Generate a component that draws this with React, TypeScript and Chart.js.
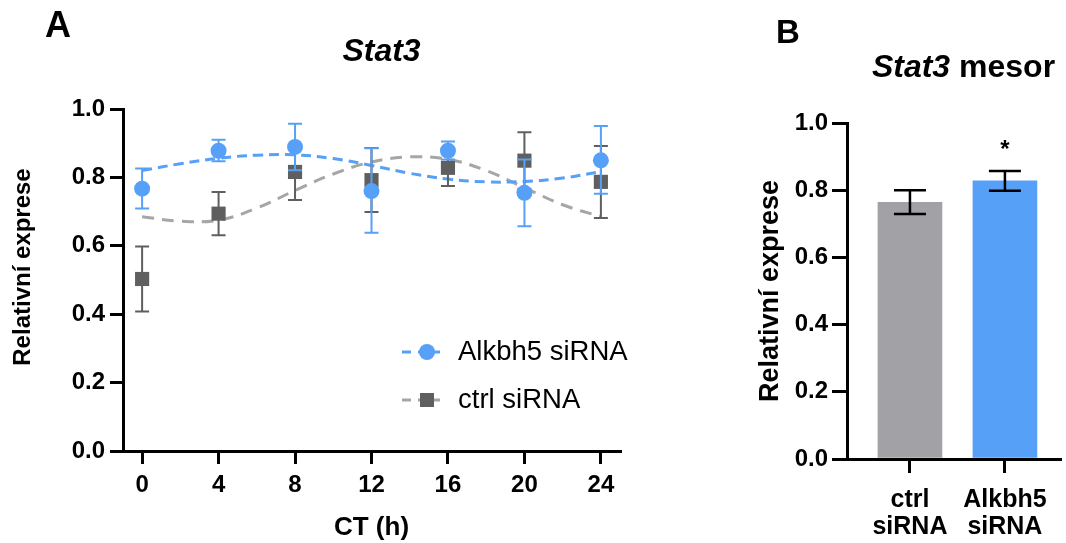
import React, { useEffect, useRef } from "react";
import { Chart, registerables } from "chart.js";

Chart.register(...registerables);

const FONT = "'Liberation Sans', Arial, Helvetica, sans-serif";
const BLUE = "#56a0f8";
const DARK = "#5f5f5f";
const GREY_LINE = "#a6a6a6";
const GREY_BAR = "#a2a1a6";

// ---- Panel A: Stat3 time course ----
const ctHours = [0, 4, 8, 12, 16, 20, 24];
const alkbh5Mean = [0.767, 0.878, 0.889, 0.76, 0.878, 0.755, 0.85];
const alkbh5Upper = [0.826, 0.91, 0.957, 0.885, 0.905, 0.852, 0.95];
const alkbh5Lower = [0.709, 0.847, 0.821, 0.638, 0.852, 0.657, 0.752];
const ctrlMean = [0.503, 0.694, 0.816, 0.792, 0.828, 0.849, 0.787];
const ctrlUpper = [0.598, 0.757, 0.898, 0.886, 0.88, 0.932, 0.892];
const ctrlLower = [0.408, 0.631, 0.734, 0.699, 0.775, 0.766, 0.681];

const fitHours = [0, 2, 4, 6, 8, 10, 12, 14, 16, 18, 20, 22, 24];
const alkbh5Fit = [0.82, 0.84, 0.856, 0.865, 0.866, 0.855, 0.835, 0.812, 0.795, 0.787, 0.788, 0.798, 0.817];
const ctrlFit = [0.685, 0.672, 0.675, 0.71, 0.762, 0.81, 0.845, 0.86, 0.853, 0.82, 0.77, 0.72, 0.685];

const xTicks = [0, 4, 8, 12, 16, 20, 24];

// ---- Panel B: mesor ----
const mesorGroups = [["ctrl", "siRNA"], ["Alkbh5", "siRNA"]];
const mesorMean = [0.764, 0.828];
const mesorUpper = [0.8, 0.857];
const mesorLower = [0.729, 0.798];
const mesorSig = ["", "*"];

function drawErr(chart: any, args: any, after: boolean) {
  const ds: any = chart.data.datasets[args.index];
  if (!ds.errUpper || !!ds.errAfter !== after) return;
  const meta = args.meta;
  const ys = chart.scales[meta.yAxisID];
  const ctx = chart.ctx;
  ctx.save();
  ctx.strokeStyle = ds.errColor;
  ctx.lineWidth = ds.errWidth;
  meta.data.forEach((el: any, i: number) => {
    const x = el.x;
    const yt = ys.getPixelForValue(ds.errUpper[i]);
    const yb = ys.getPixelForValue(ds.errLower[i]);
    const c = ds.errCap;
    ctx.beginPath();
    ctx.moveTo(x, yt);
    ctx.lineTo(x, yb);
    ctx.moveTo(x - c, yt);
    ctx.lineTo(x + c, yt);
    ctx.moveTo(x - c, yb);
    ctx.lineTo(x + c, yb);
    ctx.stroke();
    if (ds.sig && ds.sig[i]) {
      ctx.fillStyle = "#000";
      ctx.font = `bold 24px ${FONT}`;
      ctx.textAlign = "center";
      ctx.textBaseline = "alphabetic";
      ctx.fillText(ds.sig[i], x, yt - 14);
    }
  });
  ctx.restore();
}

const errorBars = {
  id: "errorBars",
  beforeDatasetDraw(chart: any, args: any) {
    drawErr(chart, args, false);
  },
  afterDatasetDraw(chart: any, args: any) {
    drawErr(chart, args, true);
  },
};

const panelText = {
  id: "panelText",
  afterDraw(chart: any, _a: any, opts: any) {
    if (!opts || !opts.letter) return;
    const ctx = chart.ctx;
    const ca = chart.chartArea;
    ctx.save();
    ctx.fillStyle = "#000";
    ctx.textBaseline = "middle";
    ctx.textAlign = "center";
    ctx.font = `bold ${opts.letterSize}px ${FONT}`;
    ctx.fillText(opts.letter, opts.letterX, opts.letterY);
    const parts = opts.title;
    const fonts = parts.map((p: any) => `${p.italic ? "italic " : ""}bold ${opts.titleSize}px ${FONT}`);
    let total = 0;
    const widths = parts.map((p: any, i: number) => {
      ctx.font = fonts[i];
      const w = ctx.measureText(p.text).width;
      total += w;
      return w;
    });
    let x = (ca.left + ca.right) / 2 + opts.titleDx - total / 2;
    ctx.textAlign = "left";
    parts.forEach((p: any, i: number) => {
      ctx.font = fonts[i];
      ctx.fillText(p.text, x, opts.titleY);
      x += widths[i];
    });
    if (opts.yTitle) {
      ctx.save();
      ctx.translate(opts.yTitle.x, (ca.top + ca.bottom) / 2 + opts.yTitle.dy);
      ctx.rotate(-Math.PI / 2);
      ctx.textAlign = "center";
      ctx.textBaseline = "middle";
      ctx.font = `bold ${opts.yTitle.size}px ${FONT}`;
      ctx.fillText(opts.yTitle.text, 0, 0);
      ctx.restore();
    }
    ctx.restore();
  },
};

const insetLegend = {
  id: "insetLegend",
  afterDraw(chart: any, _a: any, opts: any) {
    if (!opts || !opts.display) return;
    const ctx = chart.ctx;
    const items = chart.data.datasets.filter((d: any) => d.legendLine);
    items.forEach((d: any, i: number) => {
      const y = opts.y + i * opts.rowGap;
      ctx.save();
      ctx.strokeStyle = d.legendLine;
      ctx.lineWidth = 3;
      ctx.setLineDash([9, 7]);
      ctx.beginPath();
      ctx.moveTo(opts.x, y);
      ctx.lineTo(opts.x + opts.lineLen, y);
      ctx.stroke();
      ctx.setLineDash([]);
      ctx.fillStyle = d.backgroundColor;
      const mx = opts.x + opts.markerDx;
      if (d.pointStyle === "rect") {
        ctx.fillRect(mx - 7, y - 7, 14, 14);
      } else {
        ctx.beginPath();
        ctx.arc(mx, y, 8, 0, Math.PI * 2);
        ctx.fill();
      }
      ctx.fillStyle = "#000";
      ctx.font = `${opts.fontSize}px ${FONT}`;
      ctx.textBaseline = "middle";
      ctx.textAlign = "left";
      ctx.fillText(d.label, opts.textX, y);
      ctx.restore();
    });
  },
};

Chart.register(errorBars, panelText, insetLegend);

export default function App() {
  const refA = useRef<HTMLCanvasElement>(null);
  const refB = useRef<HTMLCanvasElement>(null);

  useEffect(() => {
    Chart.defaults.font.family = FONT;
    Chart.defaults.color = "#000";

    const axisGrid = {
      display: true,
      drawOnChartArea: false,
      drawTicks: true,
      lineWidth: 3,
      color: "#000",
    };

    const chartA = new Chart(refA.current as HTMLCanvasElement, {
      type: "line",
      data: {
        datasets: [
          {
            label: "Alkbh5 siRNA",
            data: ctHours.map((x, i) => ({ x, y: alkbh5Mean[i] })),
            showLine: false,
            pointStyle: "circle",
            pointRadius: 8,
            pointBorderWidth: 0,
            backgroundColor: BLUE,
            borderColor: BLUE,
            errUpper: alkbh5Upper,
            errLower: alkbh5Lower,
            errColor: BLUE,
            errWidth: 2,
            errCap: 7,
            legendLine: BLUE,
            clip: false,
          } as any,
          {
            label: "ctrl siRNA",
            data: ctHours.map((x, i) => ({ x, y: ctrlMean[i] })),
            showLine: false,
            pointStyle: "rect",
            pointRadius: 10,
            pointBorderWidth: 0,
            backgroundColor: DARK,
            borderColor: DARK,
            errUpper: ctrlUpper,
            errLower: ctrlLower,
            errColor: DARK,
            errWidth: 2,
            errCap: 7,
            legendLine: GREY_LINE,
            clip: false,
          } as any,
          {
            label: "Alkbh5 fit",
            data: fitHours.map((x, i) => ({ x, y: alkbh5Fit[i] })),
            borderColor: BLUE,
            borderWidth: 3,
            borderDash: [10, 6],
            pointRadius: 0,
            tension: 0.4,
            fill: false,
          },
          {
            label: "ctrl fit",
            data: fitHours.map((x, i) => ({ x, y: ctrlFit[i] })),
            borderColor: GREY_LINE,
            borderWidth: 3,
            borderDash: [12, 8],
            pointRadius: 0,
            tension: 0.4,
            fill: false,
          },
        ],
      },
      options: {
        responsive: false,
        animation: false,
        devicePixelRatio: 1,
        layout: { padding: { top: 109, right: 30, left: 0, bottom: 0 } },
        plugins: {
          legend: { display: false },
          tooltip: { enabled: false },
          panelText: {
            letter: "A",
            letterX: 58,
            letterY: 27,
            letterSize: 36,
            title: [{ text: "Stat3", italic: true }],
            titleSize: 32,
            titleY: 52,
            titleDx: 10,
            yTitle: { text: "Relativní exprese", x: 23, dy: -13, size: 24 },
          },
          insetLegend: {
            display: true,
            x: 402,
            y: 352,
            rowGap: 48,
            lineLen: 38,
            markerDx: 25,
            textX: 458,
            fontSize: 27.5,
          },
        } as any,
        scales: {
          x: {
            type: "linear",
            min: -1,
            max: 25,
            afterBuildTicks: (s: any) => {
              s.ticks = xTicks.map((v) => ({ value: v }));
            },
            afterFit: (s: any) => {
              s.height = 92;
            },
            grid: { ...axisGrid, tickLength: 13 },
            border: { display: true, color: "#000", width: 3 },
            ticks: {
              color: "#000",
              font: { size: 24, weight: "bold" },
              padding: 7,
              maxRotation: 0,
              autoSkip: false,
            },
            title: {
              display: true,
              text: "CT (h)",
              color: "#000",
              font: { size: 26, weight: "bold" },
              padding: { top: 0, bottom: 0 },
            },
          },
          y: {
            type: "linear",
            min: 0,
            max: 1,
            afterFit: (s: any) => {
              s.width = 123;
            },
            grid: { ...axisGrid, tickLength: 13 },
            border: { display: true, color: "#000", width: 3 },
            ticks: {
              stepSize: 0.2,
              color: "#000",
              font: { size: 24, weight: "bold" },
              padding: 5,
              callback: (v: any) => Number(v).toFixed(1),
            },
          },
        },
      } as any,
    });

    const chartB = new Chart(refB.current as HTMLCanvasElement, {
      type: "bar",
      data: {
        datasets: [
          {
            label: "Stat3 mesor",
            data: mesorMean.map((y, i) => ({ x: i + 1, y })),
            backgroundColor: [GREY_BAR, BLUE],
            borderWidth: 0,
            barThickness: 64,
            errUpper: mesorUpper,
            errLower: mesorLower,
            errColor: "#000",
            errWidth: 2.5,
            errCap: 16,
            errAfter: true,
            sig: mesorSig,
          } as any,
        ],
      },
      options: {
        responsive: false,
        animation: false,
        devicePixelRatio: 1,
        layout: { padding: { top: 123, right: 6, left: 0, bottom: 0 } },
        plugins: {
          legend: { display: false },
          tooltip: { enabled: false },
          panelText: {
            letter: "B",
            letterX: 48,
            letterY: 34,
            letterSize: 33,
            title: [
              { text: "Stat3", italic: true },
              { text: " mesor", italic: false },
            ],
            titleSize: 32,
            titleY: 68,
            titleDx: 10,
          },
        } as any,
        scales: {
          x: {
            type: "linear",
            min: 0.337,
            max: 2.58,
            offset: false,
            afterBuildTicks: (s: any) => {
              s.ticks = mesorGroups.map((_g, i) => ({ value: i + 1 }));
            },
            afterFit: (s: any) => {
              s.height = 84;
            },
            grid: { ...axisGrid, offset: false, tickLength: 14 },
            border: { display: true, color: "#000", width: 3 },
            ticks: {
              color: "#000",
              font: { size: 25, weight: "bold", lineHeight: 1.08 },
              padding: 14,
              maxRotation: 0,
              autoSkip: false,
              callback: (v: any) => mesorGroups[Math.round(Number(v)) - 1],
            },
          },
          y: {
            type: "linear",
            min: 0,
            max: 1,
            afterFit: (s: any) => {
              s.width = 107;
            },
            grid: { ...axisGrid, tickLength: 15 },
            border: { display: true, color: "#000", width: 3 },
            ticks: {
              stepSize: 0.2,
              color: "#000",
              font: { size: 24, weight: "bold" },
              padding: 4,
              callback: (v: any) => Number(v).toFixed(1),
            },
            title: {
              display: true,
              text: "Relativní exprese",
              color: "#000",
              font: { size: 27, weight: "bold" },
              padding: { top: 14, bottom: 0 },
            },
          },
        },
      } as any,
    });

    return () => {
      chartA.destroy();
      chartB.destroy();
    };
  }, []);

  return (
    <div
      style={{
        position: "fixed",
        left: 0,
        top: 0,
        width: 1066,
        height: 543,
        background: "#fff",
      }}
    >
      <canvas
        ref={refA}
        width={650}
        height={543}
        style={{ position: "absolute", left: 0, top: 0, width: 650, height: 543 }}
      />
      <canvas
        ref={refB}
        width={326}
        height={543}
        style={{ position: "absolute", left: 740, top: 0, width: 326, height: 543 }}
      />
    </div>
  );
}
